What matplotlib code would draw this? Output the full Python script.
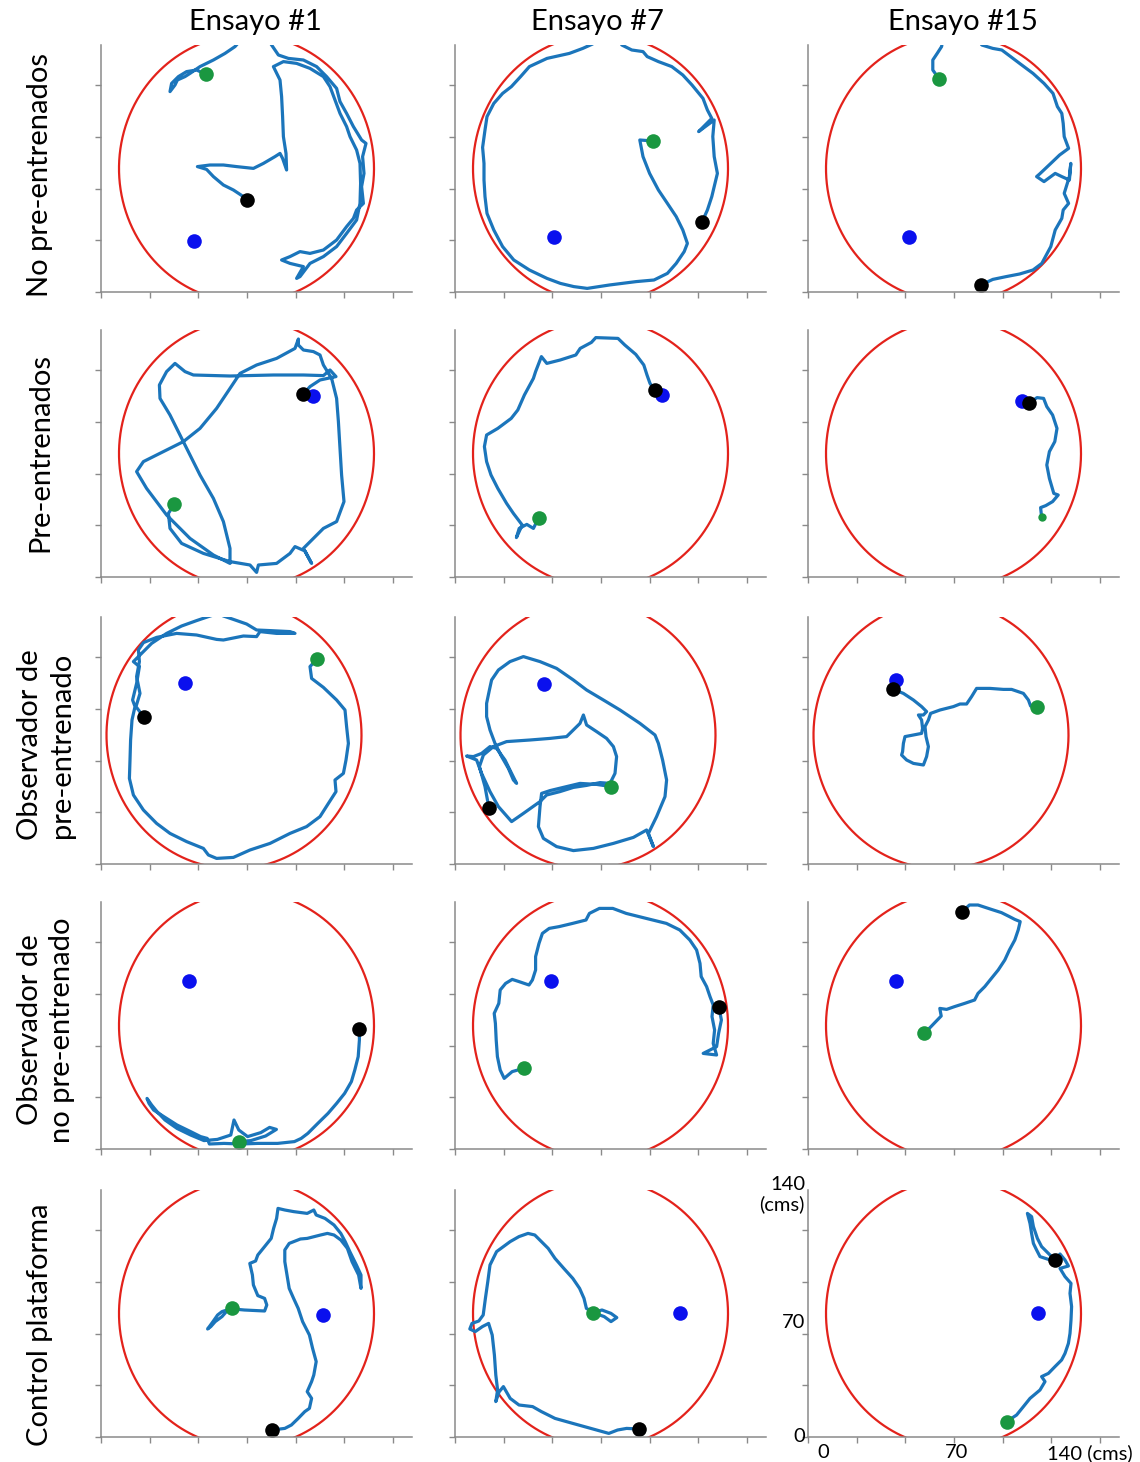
import numpy as np
import matplotlib
matplotlib.use('Agg')
import matplotlib.pyplot as plt

plt.rcParams['font.family'] = ['Lato', 'DejaVu Sans']

ensayos = ['Ensayo #1', 'Ensayo #7', 'Ensayo #15']
grupos = ['No pre-entrenados', 'Pre-entrenados', 'Observador de\npre-entrenado',
          'Observador de\nno pre-entrenado', 'Control plataforma']

# arena (cm) por fila: centro y semiejes
arena_cx = [72.75, 72.75, 66.5, 72.75, 72.75]
arena_cy = [61.75, 61.75, 64.5, 61.75, 61.75]
arena_rx = 63.75
arena_ry = 66.9

# plataforma / inicio / fin, (x, y) en cm, fila por fila
plataforma = [(46.7, 25.5), (49.4, 27.7), (50.6, 27.7),
              (105.8, 90.5), (103.3, 91.0), (107.0, 88.0),
              (42.0, 90.3), (44.5, 90.0), (44.0, 92.0),
              (43.8, 84.2), (48.1, 84.2), (44.1, 84.2),
              (111.0, 60.8), (112.5, 61.8), (114.8, 61.8)]
inicio = [(52.5, 108.8), (99.1, 75.5), (65.7, 106.3),
          (36.7, 36.5), (41.9, 29.7), (117.1, 29.8),
          (107.8, 102.3), (78.0, 38.7), (114.7, 78.3),
          (69.0, 3.7), (34.3, 40.3), (58.2, 57.8),
          (65.5, 64.3), (69.0, 62.2), (99.3, 7.7)]
fin = [(73.2, 46.0), (123.6, 35.2), (86.4, 3.5),
       (101.2, 91.5), (99.8, 93.5), (110.5, 86.8),
       (21.5, 73.3), (17.0, 27.8), (42.3, 87.5),
       (129.2, 60.0), (131.9, 71.2), (77.2, 118.7),
       (85.5, 3.5), (92.1, 4.0), (123.5, 88.5)]

# trayectorias (cm)
tr_no_1 = np.array([
    (52.5, 108.8), (47.8, 111), (42.8, 110.2), (38.7, 107.7), (35.3, 104.3), (34.5, 100.2),
    (37, 103.5), (38.2, 106), (42, 107.7), (44.5, 109.3), (49.5, 112.7), (56.2, 116),
    (62, 119.3), (67, 122.7), (72.8, 129.3), (81.2, 129.3), (85.3, 123.5), (88.7, 118.5),
    (93.7, 116.8), (101.2, 116), (107.8, 112.7), (112.8, 107.7), (117.8, 101.8), (119.5, 95.2),
    (122.8, 89.3), (126.2, 82.7), (130.3, 76), (132.5, 74.3), (130.8, 67.7), (131.5, 59.3),
    (130.3, 52.7), (131.2, 44.3), (127.8, 41), (126.2, 36.8), (122.8, 32.7), (117.8, 26),
    (111.2, 21), (104.5, 19.3), (99.5, 20.2), (94.5, 17.7), (90.3, 16), (94.5, 14.3),
    (101.2, 12.7), (97.8, 6.8), (99.5, 7.7), (104.5, 14.3), (111.2, 17.7), (117.8, 22.7),
    (122.8, 29.3), (127.8, 36), (129.5, 44.3), (129.8, 54.3), (129.5, 64.3), (127.8, 71),
    (124.5, 77.7), (122.8, 82.7), (119.5, 89.3), (117, 96), (114.5, 102.7), (111.2, 107.7),
    (104.5, 111.8), (97.8, 114.3), (91.2, 115.2), (86.2, 112.7), (89.5, 106), (90.3, 97.7),
    (90.8, 87.7), (91.2, 77.7), (92.5, 69.3), (92.8, 61), (90.8, 66.8), (89.5, 69.3),
    (87, 67.7), (81.2, 64.3), (76.2, 61.8), (67.8, 62.7), (61.2, 63.5), (54.5, 63.5),
    (48.2, 62.7), (52.8, 61.3), (56.2, 57.7), (61.2, 53.5), (66.2, 51), (71.2, 47.7),
    (73.2, 46)])
tr_no_7 = np.array([
    (99.1, 75.5), (92.4, 76), (94, 67.7), (97.3, 59.3), (101.7, 51), (106.2, 44.3),
    (110.6, 37.7), (113.9, 31), (116.2, 24.3), (114.6, 20.2), (110.6, 14.3), (106.2, 9.3),
    (99.5, 6), (90.6, 5.2), (77.2, 3.5), (66.1, 1.8), (59.4, 2.7), (52.7, 4.3),
    (46, 6.8), (37.2, 11), (29.4, 16), (23.8, 22.7), (19.4, 31), (16, 39.3),
    (15, 47.7), (14.5, 56), (14.5, 64.3), (13.8, 72.3), (15, 81), (16, 87.7),
    (19.4, 94.3), (23.8, 99.3), (28.2, 102.7), (32.8, 107.7), (37.2, 112.7), (46, 116.8),
    (57.2, 119.3), (63.9, 121.8), (68.8, 124), (72.8, 129.3), (81.7, 129.3), (83.4, 123.5),
    (88.4, 121), (94, 120.2), (96.1, 117.7), (101.7, 115.2), (108.4, 112.7), (113.9, 108.5),
    (118.5, 103.5), (124, 96.8), (126.2, 91), (128.4, 86.8), (121.8, 80.2), (129.6, 86),
    (128.9, 77.7), (129.6, 67.7), (131.2, 59.3), (129.6, 52.7), (128.4, 47.7), (126.2, 41),
    (123.6, 35.2)])
tr_no_15 = np.array([
    (65.7, 106.3), (62.4, 111), (62.4, 116), (64.6, 119.3), (66.8, 122.7), (67.9, 129.3),
    (83.5, 129.3), (86.9, 123.5), (92.4, 121.8), (96.9, 121), (101.3, 117.7), (105.8, 114.3),
    (112.5, 109.3), (118, 104.3), (122.5, 99.3), (124.7, 92.7), (126.9, 89.3), (127.6, 84.3),
    (128.1, 77.7), (130.3, 71.8), (125.8, 68.5), (121.4, 64.3), (115.8, 59), (114.3, 57.7),
    (118, 55.2), (123.6, 59.3), (126.9, 57.7), (130.7, 56), (131.4, 64.3), (130.7, 57.7),
    (128.1, 49.3), (130.3, 44.3), (127.6, 41), (126.9, 36.8), (123.6, 31), (121.4, 22.7),
    (116.9, 14.3), (112.5, 11), (105.8, 9), (99.1, 7.7), (92.4, 6.3), (86.4, 3.5)])

tr_pre_1 = np.array([
    (36.7, 36.5), (33.7, 31.8), (34.5, 24.3), (40.3, 16.8), (51.2, 11.8), (64.5, 7.7),
    (74.5, 6), (77.8, 2.3), (78.7, 6), (87.8, 6.8), (94.5, 11.8), (97, 15.2),
    (102, 13), (105.3, 6.8), (101.2, 14.3), (111.2, 24.3), (117.8, 27.7), (121.5, 37.7),
    (120.3, 51), (119.5, 64.3), (118.7, 77.7), (117.8, 89.3), (115.3, 99.3), (111.2, 106),
    (109.5, 111), (106.2, 112.7), (101.2, 113.5), (98.7, 116), (98.7, 119), (97, 114.3),
    (87.8, 109.3), (77.8, 106), (69.5, 101.8), (64.5, 94.3), (57.8, 84.3), (49.5, 74.3),
    (41.2, 67.7), (31.2, 62.7), (21.2, 57.7), (17.8, 52.7), (22.8, 44.3), (32.8, 31),
    (44.5, 19.3), (56.2, 11), (64.5, 6.8), (64.5, 14.3), (61.2, 27.7), (56.2, 39.3),
    (49.5, 51), (44.5, 61), (39.5, 71), (34.5, 81), (29.5, 89.3), (29.2, 96),
    (32.8, 102.7), (37, 106.8), (42, 102.7), (46.2, 101), (64.5, 100.5), (86.2, 101),
    (101.2, 101), (111.2, 100.7), (114.5, 103.5), (117.5, 100.2), (109.5, 98.5), (104.5, 95.2),
    (101.2, 91.5)])
tr_pre_7 = np.array([
    (41.9, 29.7), (39.2, 24.3), (35.9, 26.3), (32.1, 24.3), (30.7, 19.7), (33.6, 26),
    (29.2, 31.8), (25.8, 36.8), (21.4, 44.3), (18, 51), (15.8, 57.7), (14.7, 65.2),
    (15.8, 71), (21.4, 74.3), (28.1, 79.3), (31.4, 83.5), (34.7, 91), (39.2, 99.3),
    (40.3, 102.7), (43.2, 110.2), (45.9, 106.8), (52.6, 108.5), (60.4, 111), (62.6, 114.3),
    (68.2, 117.3), (70.4, 119.7), (81.5, 119.3), (84.9, 116), (90.4, 111.3), (94.4, 106),
    (96, 101), (97.5, 96.8), (99.8, 93.5)])
tr_pre_15 = np.array([
    (110.5, 86.8), (114.5, 89.7), (117.8, 89.3), (119.4, 85.2), (122.3, 81), (124.5, 74.3),
    (123.4, 67.7), (120.7, 62.7), (119.4, 56), (120.7, 49.3), (122.9, 41.8), (125.1, 41),
    (122.3, 37.7), (118.9, 35.7), (116.3, 34.7), (116.7, 31), (117.1, 29.8)])

tr_obp_1 = np.array([
    (107.8, 102.3), (104.5, 98.7), (105.3, 92.8), (111.2, 88.3), (117.8, 82), (122, 77),
    (122.8, 68.7), (123.7, 60.3), (122.5, 52), (121.2, 45.3), (117, 42), (117.5, 36.2),
    (113.7, 30.3), (109.5, 23.7), (102.8, 18.7), (94.5, 15.3), (84.5, 10.3), (74.5, 7),
    (66.2, 3.3), (57.8, 2.8), (53.7, 4.5), (51.2, 7.8), (42.8, 11.2), (34.5, 15.3),
    (27.8, 20.3), (21.2, 27), (16.2, 34.5), (14.2, 42.8), (14.5, 52), (14.8, 62),
    (15.5, 72), (17, 78.7), (15.8, 82), (17.8, 90.3), (19.2, 98.7), (16.2, 101.2),
    (19.5, 104.5), (25.3, 110.3), (32.8, 115.3), (40.3, 119), (47.8, 121.7), (53.7, 123.7),
    (58.7, 125.3), (61.2, 124), (66.2, 122.3), (72.8, 120), (77.8, 117), (84.5, 116.7),
    (94.5, 116.2), (97, 115.3), (87.8, 115.3), (79.5, 116.2), (77.8, 113.7), (71.2, 114),
    (61.2, 112), (57.8, 112.3), (47.8, 114.5), (37.8, 115.3), (27.8, 113.3), (21.2, 110.7),
    (18.7, 107), (19.2, 101.2), (17.8, 93.7), (19.5, 85.3), (17.5, 78.7), (21.5, 73.3)])
tr_obp_7 = np.array([
    (78, 38.7), (70.8, 39.8), (62.5, 40.3), (55.8, 38.7), (47.5, 36.7), (43.3, 35.3),
    (42.5, 28.7), (41.7, 18.7), (44.2, 12.8), (50.8, 8.7), (59.2, 6.7), (69.2, 7.8),
    (79.2, 10.3), (89.2, 13.3), (95.8, 17), (99.2, 8.7), (96.7, 15.3), (100.8, 23.7),
    (105, 33.7), (105.8, 42), (103.8, 52), (101.7, 60.3), (100, 64.5), (92.5, 70.3),
    (82.5, 77), (74.2, 82), (65.8, 87), (59.2, 92), (50.8, 97.8), (42.5, 101.2),
    (34.2, 103.7), (27.5, 101.2), (21.7, 97), (18.3, 92), (17.2, 87), (15.8, 80.3),
    (15.8, 73.7), (17.5, 67), (20, 60.3), (23.3, 53.7), (26.7, 47.8), (29.2, 42),
    (30.8, 40.3), (28.3, 45.3), (25, 52), (20.8, 57.8), (17.5, 58.7), (13.3, 55.3),
    (9.2, 53.7), (5.8, 54), (10.8, 52), (13.3, 45.3), (17.5, 36.2), (21.7, 28.7),
    (28.3, 21.2), (34.2, 25.3), (42.5, 31.2), (45.8, 34.5), (52.5, 36.2), (59.2, 38.3),
    (65.8, 39.3), (72.5, 40.7), (77.5, 40.3), (80, 45.3), (80.8, 53.7), (79.2, 58.7),
    (75.8, 62.8), (70.8, 66.2), (65.8, 69.5), (64.2, 74.5), (62.5, 70.3), (55.8, 63.7),
    (47.5, 62.8), (37.5, 62), (25.8, 61.2), (19.2, 58.7), (14.2, 54.5), (12.2, 48.7),
    (15, 38.7), (17, 27.8)])
tr_obp_15 = np.array([
    (42.3, 87.5), (47.7, 85.3), (52.7, 82), (56.8, 78.7), (59.3, 76.2), (57.7, 74.5),
    (55.2, 74.5), (56.8, 72), (57.3, 67.8), (56.8, 65.3), (52.7, 64.5), (48.5, 63.7),
    (47.7, 60.3), (47.3, 56.2), (46.8, 54.5), (49.3, 52), (52.7, 50.3), (57.7, 49.5),
    (59.3, 53.7), (60.2, 58.7), (59, 63.7), (58.5, 68.7), (60.2, 72), (61.3, 75.3),
    (66, 77), (72.7, 78.7), (76, 80), (79.3, 80), (81.8, 83.7), (84.3, 87.8),
    (91, 87.8), (97.7, 87.3), (101.8, 87.3), (107.7, 85.3), (110.2, 82), (111.3, 79),
    (114.7, 78.3)])

tr_obn_1 = np.array([
    (129.2, 60), (129.2, 54.5), (128.6, 46.2), (126.9, 39.5), (125.2, 33.7), (121.8, 27.8),
    (117.8, 22.8), (113.5, 17.8), (108.4, 12.8), (103.4, 7.8), (100.1, 5.3), (96.7, 3.7),
    (88.3, 2.8), (78.3, 2.8), (69.9, 2.5), (61.5, 2.8), (54.2, 2.5), (53.1, 5.3),
    (49.8, 6.2), (44.8, 8.7), (38, 12), (31.4, 16.2), (26.3, 19.5), (24, 22.8),
    (23, 25.3), (25.3, 22), (28, 18.7), (32, 14.5), (38, 10.3), (44.8, 7),
    (51.5, 4.2), (58.2, 4.8), (64.9, 7), (66.5, 14.5), (68.9, 9.5), (73.3, 6.2),
    (79.9, 8.2), (84.3, 10.8), (87.7, 9.8), (82.3, 6.5), (74.9, 4.2), (69, 3.7)])
tr_obn_7 = np.array([
    (34.3, 40.3), (28.6, 38.7), (24.6, 35.3), (22.6, 39.5), (21.2, 46.2), (20.6, 54.5),
    (20.2, 62.8), (19.6, 67.8), (21.9, 72.8), (22.6, 79.5), (25.3, 82.8), (28.6, 84.8),
    (32, 83.7), (37, 82), (38.7, 84.5), (40.3, 89.5), (40.3, 96.2), (42, 102.8),
    (43.7, 107.8), (47.1, 110.3), (52.1, 111.2), (58.8, 112.8), (65.5, 114.5), (67.2, 117.8),
    (72.2, 120.3), (78.9, 120.3), (85.6, 117.8), (95.6, 115.3), (105.7, 112.8), (112.4, 109.5),
    (117.4, 104.5), (120.8, 99.5), (122.5, 92.8), (123.1, 86.2), (125.8, 81.2), (127.5, 76.2),
    (129.1, 72), (128.5, 66.2), (129.8, 59.5), (129.1, 52.8), (130.8, 47), (124.1, 47.8),
    (127.5, 49.5), (130.8, 51.2), (131.8, 57.8), (133.2, 64.5), (131.9, 71.2)])
tr_obn_15 = np.array([
    (58.2, 57.8), (61.5, 61.2), (63.9, 63.7), (66.6, 66.5), (65.9, 70.3), (69.3, 69.8),
    (73.3, 71.2), (78.3, 72.8), (83.3, 74.5), (85, 77.8), (88.4, 81.2), (91.7, 85.3),
    (95.1, 89.5), (98.4, 94.5), (100.7, 99.5), (103.4, 104.5), (105.1, 109.5), (106.1, 113.7),
    (103.4, 114.8), (100.7, 116.2), (96.7, 118.2), (91.7, 119.8), (85, 122), (80.7, 122),
    (77.2, 118.7)])

tr_ctl_1 = np.array([
    (65.5, 64.3), (60.5, 62.7), (58.3, 61), (56, 57.7), (53.3, 54), (54.9, 55.2),
    (57.1, 57.7), (60.5, 60.2), (62.7, 62.7), (66.1, 64), (71.7, 63.5), (81.8, 63),
    (82.9, 66), (81.8, 69.3), (78.4, 70.7), (76.2, 76), (75.7, 81), (74.4, 86.8),
    (77.3, 88), (78.4, 91), (81.8, 95.2), (85.1, 99.3), (86.3, 104.3), (87.8, 109.3),
    (88.5, 114.3), (91.9, 113.5), (96.3, 112.7), (103.1, 111.8), (106.4, 113.5), (107.6, 111),
    (112, 109.3), (116.5, 106), (119.9, 101.8), (122.1, 97.7), (124.4, 92.7), (127.7, 86),
    (130, 81), (130, 74.3), (128.8, 81), (125.5, 87.7), (123.2, 94.3), (119.9, 98.5),
    (116.5, 101), (113.2, 101.8), (109.8, 101), (103.1, 99.3), (99.7, 99), (94.1, 96.8),
    (91.9, 93.5), (91.9, 87.7), (93, 81), (94.1, 74.3), (96.3, 69.3), (98.6, 64.3),
    (100.8, 57.7), (104.2, 51), (105.8, 44.3), (107.6, 37.7), (106.4, 31), (105.3, 27.7),
    (103.1, 22.7), (105.3, 19.3), (104.2, 14.3), (101.9, 12.7), (98.6, 9.3), (95.2, 6),
    (91.9, 4.3), (85.5, 3.5)])
tr_ctl_7 = np.array([
    (69, 62.2), (73.5, 63.5), (78, 61.8), (80.9, 59.7), (78, 57.7), (74.6, 60.2),
    (70.1, 61.8), (65.7, 64.3), (64.5, 69.3), (62.3, 74.3), (58.9, 79.3), (54.4, 84.3),
    (50, 89.3), (46.6, 94.3), (43.2, 97.7), (39.9, 101), (36.5, 101.8), (32, 100.2),
    (27.6, 97.7), (20.8, 92.7), (17.5, 86), (16.4, 77.7), (15.2, 69.3), (14.1, 61),
    (11.9, 58), (8.5, 56.8), (7.4, 54), (10.1, 52.7), (13.7, 55.2), (16.8, 56.8),
    (18.6, 51), (19.7, 41), (20.4, 31), (21.3, 23.5), (20.4, 17.7), (22, 22.5),
    (24.2, 25.2), (27.6, 19.3), (32, 16), (38.8, 15.2), (43.2, 12.7), (50, 9.3),
    (58.9, 6.8), (67.9, 4.3), (76.9, 1.8), (81.3, 3.5), (85.8, 4.3), (92.1, 4)])
tr_ctl_15 = np.array([
    (99.3, 7.7), (104.3, 11), (107.7, 15.2), (111, 19.3), (116, 23.5), (118.5, 27.7),
    (116.8, 30.2), (120.2, 31.8), (123.5, 35.2), (126.8, 38.5), (128.5, 41.8), (130.2, 46.8),
    (131, 51.8), (131.5, 58.5), (131.8, 65.2), (131, 71.8), (131.5, 76.8), (128.5, 80.2),
    (126, 84.3), (130.2, 85.5), (128.5, 88.5), (126, 91.5), (123.5, 88.5), (120.2, 88.8),
    (116, 90.2), (114.3, 93.5), (112.7, 96.8), (111.8, 101.8), (111, 106.8), (109.7, 111.8),
    (111.8, 110.2), (112.7, 105.2), (114.7, 99.3), (116.8, 95.2), (120.2, 91.8), (123.5, 88.5)])

trayectorias = [tr_no_1, tr_no_7, tr_no_15,
                tr_pre_1, tr_pre_7, tr_pre_15,
                tr_obp_1, tr_obp_7, tr_obp_15,
                tr_obn_1, tr_obn_7, tr_obn_15,
                tr_ctl_1, tr_ctl_7, tr_ctl_15]

W, H = 1140, 1462
fig = plt.figure(figsize=(W / 100, H / 100), dpi=100)

col_left = [101, 455, 808]
row_bottom = [292, 577, 864, 1149, 1437]
ax_w, ax_h = 311, 247
XMAX, YMAX = 155.5, 123.5

c_tray = '#1b75bb'
c_arena = '#e3221b'
c_gris = '#8a8a8a'

# empieza arriba, asi los cortes del borde quedan fuera del recuadro
ang = np.linspace(np.pi / 2, np.pi / 2 + 2 * np.pi, 1441)

axes = []
for i in range(5):
    for j in range(3):
        k = i * 3 + j
        ax = fig.add_axes([col_left[j] / W, (H - row_bottom[i]) / H, ax_w / W, ax_h / H])
        ax.set_xlim(0, XMAX)
        ax.set_ylim(0, YMAX)
        ax.set_autoscale_on(False)
        ax.set_xticks(np.arange(7) * 24.33)
        ax.set_yticks(np.arange(5) * 25.85)
        ax.tick_params(direction='out', length=4, width=1, colors=c_gris,
                       labelbottom=False, labelleft=False)
        for s in ['top', 'right']:
            ax.spines[s].set_visible(False)
        for s in ['left', 'bottom']:
            ax.spines[s].set_color(c_gris)
            ax.spines[s].set_linewidth(1.1)

        # borde de la piscina, cortado por el recuadro
        ax.plot(arena_cx[i] + arena_rx * np.cos(ang), arena_cy[i] + arena_ry * np.sin(ang),
                color=c_arena, lw=1.6)

        tr = trayectorias[k]
        ax.plot(tr[:, 0], tr[:, 1], color=c_tray, lw=2.3, solid_joinstyle='round')
        ms_ini = 6 if k == 5 else 10.5
        ax.plot(*inicio[k], 'o', color='#1a9740', ms=ms_ini, mec='none')
        ax.plot(*plataforma[k], 'o', color='#0a10ee', ms=10.5, mec='none')
        ax.plot(*fin[k], 'o', color='black', ms=10.5, mec='none')
        axes.append(ax)

for j, t in enumerate(ensayos):
    xc = [255, 597, 963][j]
    fig.text(xc / W, 1 - 22 / H, t, ha='center', va='center', fontsize=21)

for i, g in enumerate(grupos):
    yc = [175, 452, 745, 1030, 1325][i]
    xc = 46 if '\n' in g else 40
    fig.text(xc / W, 1 - yc / H, g, rotation=90, ha='center', va='center',
             fontsize=21, linespacing=1.25)

# etiquetas de escala en el ultimo panel
ax = axes[-1]
ax.text(-1.5, 121, '140\n(cms)', ha='right', va='center', fontsize=14.5,
        multialignment='right', linespacing=1.15, clip_on=False)
ax.text(-1.5, 57.5, '70', ha='right', va='center', fontsize=14.5, clip_on=False)
ax.text(-1.5, 0, '0', ha='right', va='center', fontsize=14.5, clip_on=False)
xt = ax.get_xaxis_transform()
ax.text(7.5, -0.03, '0', ha='center', va='top', fontsize=14.5, transform=xt)
ax.text(74.5, -0.03, '70', ha='center', va='top', fontsize=14.5, transform=xt)
ax.text(119.5, -0.03, '140 (cms)', ha='left', va='top', fontsize=14.5, transform=xt)

fig.savefig('out.png', dpi=100, facecolor='white')
